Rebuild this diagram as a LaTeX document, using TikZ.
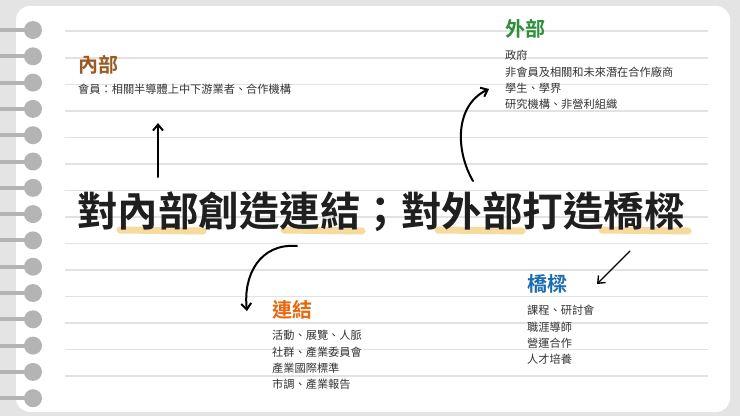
\documentclass[tikz,border=0pt]{standalone}
\usepackage{fontspec}
\newfontfamily\cjk{Noto Sans CJK TC}
\newfontfamily\cjkb{Noto Sans CJK TC Bold}
\usetikzlibrary{arrows.meta}
\definecolor{bg}{HTML}{E4E4E4}
\definecolor{ruled}{HTML}{E2E2E2}
\definecolor{ring}{HTML}{B4B4B4}
\definecolor{hl}{HTML}{F6D58E}
\definecolor{cbrown}{HTML}{9A5A24}
\definecolor{cgreen}{HTML}{2E8F3A}
\definecolor{corange}{HTML}{E8680F}
\definecolor{cblue}{HTML}{1B6DB0}
\definecolor{body}{HTML}{333333}
\tikzset{
  head/.style={anchor=north west,inner sep=0pt,font=\cjkb\fontsize{20}{22}\selectfont},
  items/.style={anchor=north west,inner sep=0pt,align=left,text=body,font=\cjk\fontsize{11.2}{16.4}\selectfont},
  arr/.style={-{Straight Barb[length=6pt,width=10pt]},line width=2pt,line cap=round},
  swash/.style={line width=7pt,line cap=round,hl,opacity=0.85}
}
\begin{document}
\begin{tikzpicture}[x=1pt,y=-1pt]
\fill[bg] (0,0) rectangle (740,416);
\useasboundingbox (0,0) rectangle (740,416);
\fill[white,rounded corners=14pt] (16,6) rectangle (730,412);
\foreach \y in {31,58,84.5,111,137.5,164,190.5,217,243.5,270,296.5,323,349.5,376}
  \draw[ruled,line width=1.2pt] (65,\y) -- (708,\y);
\foreach \i in {0,...,14}{
  \draw[ring,line width=4pt] (0,{30+26.3*\i}) -- (33,{30+26.3*\i});
  \fill[ring] (33,{30+26.3*\i}) circle (9);
}
% highlights
\draw[swash] (120,230) -- (203,231);
\draw[swash] (284,230) -- (362,231);
\draw[swash] (438,230) -- (522,231);
\draw[swash] (602,230) -- (688,231);
\node[inner sep=0pt,font=\cjkb\fontsize{40.5}{42}\selectfont,text=black!88] (title) at (381,212) {對內部創造連結；對外部打造橋樑};
% sections
\node[head,text=cbrown] (inh) at (78,55) {內部};
\node[items] (inb) at (78,84) {會員：相關半導體上中下游業者、合作機構};
\node[head,text=cgreen] (outh) at (505,19) {外部};
\node[items] (outb) at (505,50) {政府\\非會員及相關和未來潛在合作廠商\\學生、學界\\研究機構、非營利組織};
\node[head,text=corange] (lnh) at (272,300) {連結};
\node[items] (lnb) at (272,330) {活動、展覽、人脈\\社群、產業委員會\\產業國際標準\\市調、產業報告};
\node[head,text=cblue] (brh) at (527,274) {橋樑};
\node[items] (brb) at (527,305) {課程、研討會\\職涯導師\\營運合作\\人才培養};
% arrows
\coordinate (a1) at (158,177);
\coordinate (a1e) at (158,123);
\draw[arr] (a1) -- (a1e);
\coordinate (a2) at (473,181);
\coordinate (a2e) at (489,89);
\draw[arr] (a2) .. controls (455,150) and (455,105) .. (a2e);
\coordinate (a3) at (297,246);
\coordinate (a3e) at (247,311);
\draw[arr] (a3) .. controls (260,243) and (243,275) .. (a3e);
\coordinate (a4) at (630,251);
\coordinate (a4e) at (597,284);
\draw[arr,line width=1.4pt] (a4) -- (a4e);
\end{tikzpicture}
\end{document}
